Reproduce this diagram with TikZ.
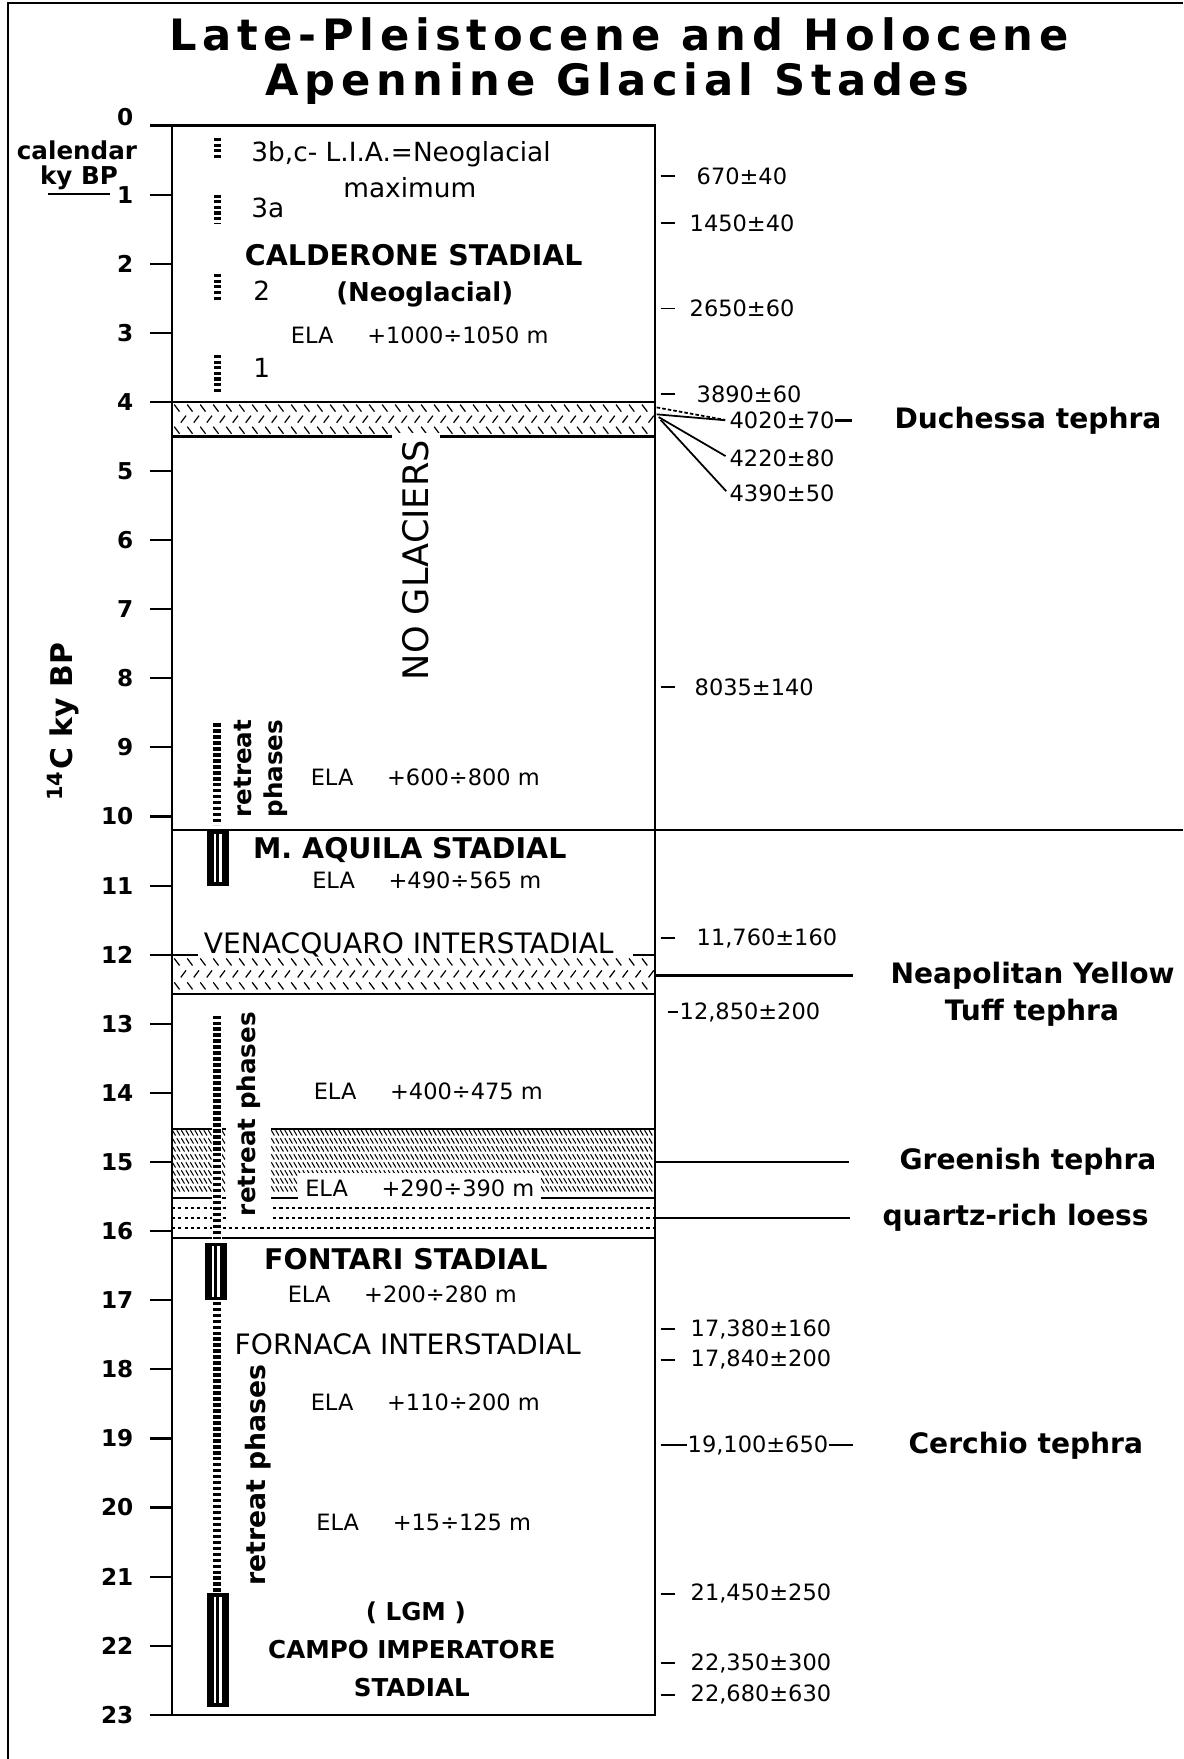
\documentclass[tikz,border=0pt]{standalone}
\usepackage{fontspec}
\setmainfont{DejaVu Sans}
\newfontfamily\titlefont{DejaVu Sans}[LetterSpace=13]
\usepackage{tikz}
\usetikzlibrary{positioning}
\newcommand{\fsz}[1]{\fontsize{#1}{#1}\selectfont}

\begin{document}
\begin{tikzpicture}[x=0.01cm, y=-0.691cm, yshift=-1.255cm, line width=0.6pt,
    every node/.style={align=center, inner sep=1pt},
    ttl/.style={font=\titlefont\bfseries\fsz{12.3}},
    ticklbl/.style={font=\bfseries\fsz{6.6}, anchor=east},
    stad/.style={font=\bfseries\fsz{8.1}},
    lgmlbl/.style={font=\bfseries\fsz{7}},
    inter/.style={font=\fsz{8}},
    ela/.style={font=\fsz{6.4}},
    neo/.style={font=\fsz{7.5}, anchor=west},
    retr/.style={font=\bfseries\fsz{7}, rotate=90, anchor=west, fill=white},
    date/.style={font=\fsz{6.4}, anchor=west, inner sep=0pt},
    teph/.style={font=\bfseries\fsz{8}, anchor=west, inner sep=0pt},
    hatch/.style={line width=0.35pt},
    retbar/.style={line width=2.1pt, dash pattern=on 1pt off 0.7pt},
    neobar/.style={line width=2pt, dash pattern=on 0.9pt off 0.7pt},
    loess/.style={line width=0.5pt, dash pattern=on 0.9pt off 0.9pt},
    conn/.style={line width=0.5pt},
    pics/stadbar/.style={code={
      \fill ({-11},{0}) rectangle ({11},{#1});
      \fill[white] ({-4.2},{0.05}) rectangle ({4.2},{#1-0.05});
      \draw[line width=0.8pt] ({0},{0.05}) -- ({0},{#1-0.05});
    }}]
    \useasboundingbox ({0},{-1.816}) rectangle ({1184},{23.639});
    \draw[line width=0.7pt] ({8},{23.64}) -- ({8},{-1.773}) -- ({1184},{-1.773});

    \node[ttl] (title1) at ({619.5},{-1.324}) {Late-Pleistocene and Holocene};
    \node[ttl] (title2) at ({618},{-0.6}) {Apennine Glacial Stades};

    \foreach \ta/\tb in {4.09/0.16, 12.105/0.173}{
      \foreach \r in {0,1,2}{
        \pgfmathsetmacro{\ty}{\ta+\tb*\r}
        \pgfmathsetmacro{\hs}{1-2*mod(\r,2)}
        \pgfmathsetmacro{\dx}{6.5*mod(\r,2)}
        \draw[hatch] \foreach \x in {177,190,...,645} {({\x+\dx},{\ty}) ++(-0.75pt,{1pt*(\hs)}) -- ++(1.5pt,{-2pt*(\hs)})};
      }
    }
    \foreach \r in {0,...,7}{
      \pgfmathsetmacro{\ty}{14.578+0.1158*\r}
      \draw[hatch, line width=0.3pt] \foreach \x in {174,178.5,...,653} {({\x},{\ty}) ++(-0.45pt,0.75pt) -- ++(0.9pt,-1.5pt)};
    }

    \draw ({172},{0}) rectangle ({655},{23});
    \foreach \k in {0,...,23} \draw ({150},{\k}) -- ({172},{\k});
    \draw ({172},{4.0}) -- ({655},{4.0});
    \draw ({172},{4.5}) -- ({655},{4.5});
    \draw ({172},{10.2}) -- ({1184},{10.2});
    \draw ({172},{12.0}) -- ({198},{12.0}) ({633},{12.0}) -- ({655},{12.0});
    \draw ({172},{12.57}) -- ({655},{12.57});
    \draw ({172},{14.52}) -- ({655},{14.52});
    \draw ({172},{15.52}) -- ({655},{15.52});
    \foreach \t in {15.67,15.81,15.96} \draw[loess] ({172},{\t}) -- ({655},{\t});
    \draw ({172},{16.1}) -- ({655},{16.1});

    \foreach \a/\b in {0.18/0.5, 1.0/1.42, 2.15/2.52, 3.32/3.85} \draw[neobar] ({218},{\a}) -- ({218},{\b});
    \draw[retbar] ({217},{8.65}) -- ({217},{10.12});
    \draw[white, line width=3pt] ({217},{12.88}) -- ({217},{16.12});
    \draw[retbar] ({217},{12.88}) -- ({217},{16.12});
    \draw[retbar] ({217},{17.02}) -- ({217},{21.22});
    \pic at ({218},{10.2}) {stadbar=0.8};
    \pic at ({216},{16.17}) {stadbar=0.83};
    \pic at ({218},{21.24}) {stadbar=1.64};

    \node[ticklbl, anchor=base east] (k0) at ({138},{0}) {0};
    \foreach \k in {1,...,23} \node[ticklbl] (k\k) at ({138},{\k}) {\k};
    \node[font=\bfseries\fsz{7}] (cal) at ({77},{0.355}) {calendar};
    \node[font=\bfseries\fsz{7}] (kybp) at ({79},{0.76}) {ky BP};
    \draw ({48},{0.99}) -- ({110},{0.99});
    \node[font=\bfseries\fsz{8.5}, rotate=90] (axis) at ({63},{8.63}) {\textsuperscript{14}C ky BP};

    \node[neo] (neo3bc) at ({247},{0.41}) {3b,c- L.I.A.=Neoglacial};
    \node[font=\fsz{7.5}] (neomax) at ({410},{0.90}) {maximum};
    \node[neo] (neo3a) at ({247},{1.2}) {3a};
    \node[stad] (calderone) at ({414},{1.88}) {CALDERONE STADIAL};
    \node[neo] (neo2) at ({249},{2.39}) {2};
    \node[font=\bfseries\fsz{7.4}] (neoglac) at ({425},{2.44}) {(Neoglacial)};
    \node[ela] (ela1) at ({420},{3.04}) {ELA\hspace{1.5em}+1000÷1050 m};
    \node[neo] (neo1) at ({249},{3.51}) {1};
    \node[font=\fsz{10}, rotate=90, fill=white, inner xsep=2pt, inner ysep=3pt] (nogl) at ({416},{6.29}) {NO GLACIERS};
    \node[retr, align=left] (ret1) at ({261},{10.08}) {retreat\\[2pt]phases};
    \node[ela] (ela2) at ({425.5},{9.43}) {ELA\hspace{1.5em}+600÷800 m};
    \node[stad] (aquila) at ({410},{10.49}) {M. AQUILA STADIAL};
    \node[ela] (ela3) at ({427},{10.92}) {ELA\hspace{1.5em}+490÷565 m};
    \node[inter] (venac) at ({409},{11.86}) {VENACQUARO INTERSTADIAL};
    \node[retr, inner sep=3pt] (ret2) at ({249},{15.95}) {retreat phases};
    \node[ela] (ela4) at ({428.5},{13.97}) {ELA\hspace{1.5em}+400÷475 m};
    \node[ela, fill=white, inner sep=2pt] (ela5) at ({420},{15.38}) {ELA\hspace{1.5em}+290÷390 m};
    \node[stad] (fontari) at ({406},{16.4}) {FONTARI STADIAL};
    \node[ela] (ela6) at ({402.5},{16.91}) {ELA\hspace{1.5em}+200÷280 m};
    \node[inter] (fornaca) at ({408},{17.64}) {FORNACA INTERSTADIAL};
    \node[retr, font=\bfseries\fsz{7.6}] (ret3) at ({258},{21.2}) {retreat phases};
    \node[ela] (ela7) at ({425.5},{18.47}) {ELA\hspace{1.5em}+110÷200 m};
    \node[ela] (ela8) at ({424},{20.21}) {ELA\hspace{1.5em}+15÷125 m};
    \node[lgmlbl] (lgm) at ({416},{21.53}) {( LGM )};
    \node[lgmlbl] (campo) at ({412},{22.06}) {CAMPO IMPERATORE};
    \node[lgmlbl] (stadlgm) at ({412},{22.61}) {STADIAL};

    \foreach \t in {0.73,1.41,2.65,3.886,8.126,11.76,17.42,17.86,21.25,22.25,22.71} \draw[conn] ({661},{\t}) -- ({675},{\t});
    \draw[conn] ({668},{12.83}) -- ({678},{12.83});
    \node[date] (d670) at ({696},{0.73}) {670±40};
    \node[date] (d1450) at ({689},{1.41}) {1450±40};
    \node[date] (d2650) at ({689},{2.65}) {2650±60};
    \node[date] (d3890) at ({696},{3.886}) {3890±60};
    \node[date] (d4020) at ({729},{4.27}) {4020±70};
    \node[date] (d4220) at ({729},{4.81}) {4220±80};
    \node[date] (d4390) at ({729},{5.33}) {4390±50};
    \node[date] (d8035) at ({694},{8.126}) {8035±140};
    \node[date] (d11760) at ({696},{11.76}) {11,760±160};
    \node[date] (d12850) at ({679},{12.83}) {12,850±200};
    \node[date] (d17380) at ({690},{17.42}) {17,380±160};
    \node[date] (d17840) at ({690},{17.86}) {17,840±200};
    \node[date] (d19100) at ({687},{19.1}) {19,100±650};
    \node[date] (d21450) at ({690},{21.25}) {21,450±250};
    \node[date] (d22350) at ({690},{22.25}) {22,350±300};
    \node[date] (d22680) at ({690},{22.71}) {22,680±630};

    \node[teph] (duch) at ({894},{4.27}) {Duchessa tephra};
    \node[teph] (nyt) at ({890},{12.3}) {Neapolitan Yellow};
    \node[font=\bfseries\fsz{8}] (tuff) at ({1032.5},{12.84}) {Tuff tephra};
    \node[teph] (grn) at ({899},{15.0}) {Greenish tephra};
    \node[teph] (lss) at ({882},{15.81}) {quartz-rich loess};
    \node[teph] (cer) at ({908},{19.1}) {Cerchio tephra};

    \coordinate (fanA) at ({657},{4.08});
    \coordinate (fanB) at ({657},{4.18});
    \coordinate (fanC) at ({659},{4.22});
    \coordinate (fanD) at ({661},{4.26});
    \draw[conn, dash pattern=on 1pt off 0.6pt, shorten >=1pt] (fanA) -- (d4020.west);
    \draw[conn, shorten >=1pt] (fanB) -- (d4020.west);
    \draw[conn, shorten >=1pt] (fanC) -- (d4220.west);
    \draw[conn, shorten >=1pt] (fanD) -- (d4390.west);
    \draw[shorten >=11.7pt] (d4020.east) -- (duch.west);
    \coordinate (nytA) at ({656},{12.3});
    \draw[shorten >=10.5pt] (nytA) -- (nyt.west);
    \coordinate (grnA) at ({656},{15.0});
    \draw[shorten >=14pt] (grnA) -- (grn.west);
    \coordinate (lssA) at ({656},{15.81});
    \draw[shorten >=9.1pt] (lssA) -- (lss.west);
    \coordinate (cerA) at ({661},{19.1});
    \draw (cerA) -- (d19100.west);
    \draw[shorten >=15.6pt] (d19100.east) -- (cer.west);
\end{tikzpicture}
\end{document}
